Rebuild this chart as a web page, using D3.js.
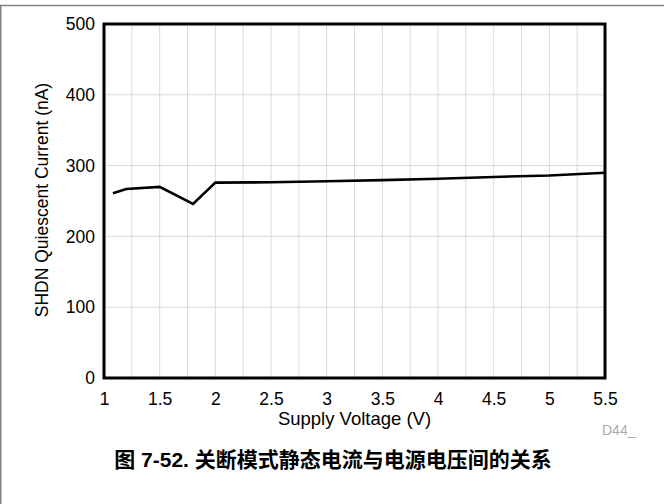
<!DOCTYPE html>
<html><head><meta charset="utf-8">
<script src="https://cdn.jsdelivr.net/npm/d3@7/dist/d3.min.js"></script>
<style>body{margin:0;background:#fff}svg{display:block}</style>
</head><body>
<script>
const voltage = [1.08, 1.2, 1.5, 1.8, 2.0, 2.5, 3.0, 3.5, 4.0, 4.5, 5.0, 5.5];
const current = [261, 267, 270, 246, 276, 276.5, 278, 279.5, 281.5, 284, 286, 290];
const xTicks = [1, 1.5, 2, 2.5, 3, 3.5, 4, 4.5, 5, 5.5];
const yTicks = [0, 100, 200, 300, 400, 500];
const xGrid = d3.range(0, 19).map(i => 1 + i * 0.25);
const xTitle = "Supply Voltage (V)";
const yTitle = "SHDN Quiescent Current (nA)";
const caption = "图 7-52. 关断模式静态电流与电源电压间的关系";
const code = "D44_";

const W = 664, H = 504;
const svg = d3.select("body").append("svg").attr("width", W).attr("height", H);
const L = 104, R = 605, T = 24, B = 378;
const x = d3.scaleLinear().domain([1, 5.5]).range([L, R]);
const y = d3.scaleLinear().domain([0, 500]).range([B, T]);
const font = "'Liberation Sans', Arial, sans-serif";

// outer frame lines
svg.append("line").attr("x1", 0).attr("x2", W).attr("y1", 5.5).attr("y2", 5.5).attr("stroke", "#808080").attr("stroke-width", 1.5);
svg.append("line").attr("x1", 0.75).attr("x2", 0.75).attr("y1", 5).attr("y2", H).attr("stroke", "#808080").attr("stroke-width", 1.5);

// grid
const g = svg.append("g");
g.selectAll(".vg").data(xGrid).join("line")
  .attr("x1", d => x(d)).attr("x2", d => x(d)).attr("y1", T).attr("y2", B)
  .attr("stroke", "#d9d9d9").attr("stroke-width", 1);
g.selectAll(".hg").data(yTicks).join("line")
  .attr("x1", L).attr("x2", R).attr("y1", d => y(d)).attr("y2", d => y(d))
  .attr("stroke", "#d9d9d9").attr("stroke-width", 1);

// axes (labels only)
const xa = svg.append("g").attr("transform", `translate(0,${B})`)
  .call(d3.axisBottom(x).tickValues(xTicks).tickSize(0).tickPadding(15).tickFormat(d3.format("")));
xa.select(".domain").remove();
xa.selectAll("text").attr("font-family", font).attr("font-size", 17.5).attr("fill", "#000");
const ya = svg.append("g").attr("transform", `translate(${L},0)`)
  .call(d3.axisLeft(y).tickValues(yTicks).tickSize(0).tickPadding(9));
ya.select(".domain").remove();
ya.selectAll("text").attr("font-family", font).attr("font-size", 17.5).attr("fill", "#000");

// line
svg.append("path").datum(voltage.map((v, i) => [v, current[i]]))
  .attr("fill", "none").attr("stroke", "#000").attr("stroke-width", 2.6).attr("stroke-linejoin", "miter")
  .attr("d", d3.line().x(d => x(d[0])).y(d => y(d[1])));

// plot frame
svg.append("rect").attr("x", L).attr("y", T).attr("width", R - L).attr("height", B - T)
  .attr("fill", "none").attr("stroke", "#000").attr("stroke-width", 3);

// titles
svg.append("text").attr("x", (L + R) / 2).attr("y", 425).attr("text-anchor", "middle")
  .attr("font-family", font).attr("font-size", 18.5).text(xTitle);
svg.append("text").attr("transform", `translate(48,${(T + B) / 2 - 1}) rotate(-90)`).attr("text-anchor", "middle")
  .attr("font-family", font).attr("font-size", 17.5).text(yTitle);
svg.append("text").attr("x", 602).attr("y", 435).attr("text-anchor", "start")
  .attr("font-family", font).attr("font-size", 14).attr("fill", "#aaaaaa").text(code);
svg.append("text").attr("x", 333).attr("y", 467).attr("text-anchor", "middle")
  .attr("font-family", "'Liberation Sans', 'Noto Sans CJK SC', sans-serif").attr("font-weight", "bold")
  .attr("font-size", 21).text(caption);
</script>
</body></html>
